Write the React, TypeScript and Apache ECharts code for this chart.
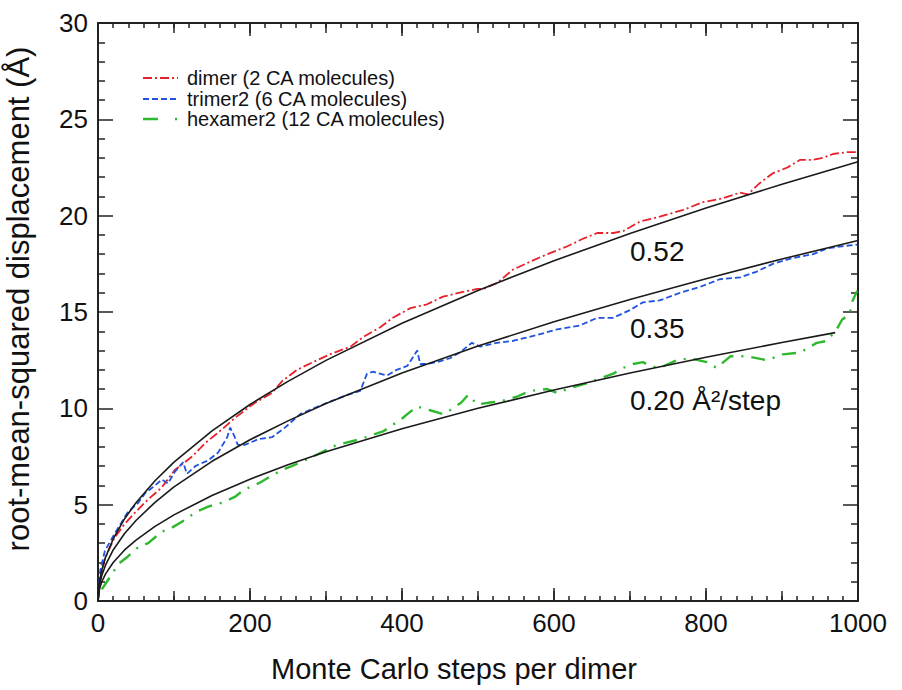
import React, { useEffect, useRef } from "react";
import * as echarts from "echarts";

const FONT = "'Liberation Sans', Arial, Helvetica, sans-serif";

const xTickValues = [0, 200, 400, 600, 800, 1000];
const yTickValues = [0, 5, 10, 15, 20, 25, 30];

const seriesNames = [
  "dimer (2 CA molecules)",
  "trimer2 (6 CA molecules)",
  "hexamer2 (12 CA molecules)",
];
const seriesColors = ["#e8202a", "#2052e0", "#2eb82e"];
const seriesDashes = [[9, 3, 2, 3], [6, 3], [14, 8, 2, 8]];
const legendDashes = [[9, 3, 2, 3], [6, 3], [15, 17, 2, 10]];
const seriesWidths = [1.8, 1.8, 2.4];

const dimerData = [
  [0, 0], [3, 1.1], [9, 2.2], [22, 3.3], [35, 4.0], [49, 4.6], [64, 5.2], [84, 5.9],
  [101, 6.8], [124, 7.5], [141, 8.2], [163, 8.9], [180, 9.5], [207, 10.3], [229, 10.8],
  [242, 11.4], [262, 12.0], [283, 12.4], [305, 12.8], [332, 13.2], [349, 13.7], [371, 14.2],
  [388, 14.7], [411, 15.2], [433, 15.4], [454, 15.8], [476, 16.0], [499, 16.2], [507, 16.2],
  [525, 16.5], [546, 17.2], [568, 17.6], [591, 18.0], [617, 18.4], [638, 18.8], [657, 19.1],
  [678, 19.1], [691, 19.2], [713, 19.7], [735, 19.9], [770, 20.3], [796, 20.7], [822, 20.9],
  [845, 21.2], [855, 21.1], [871, 21.7], [888, 22.2], [907, 22.5], [924, 22.9], [941, 22.9],
  [954, 23.0], [967, 23.2], [986, 23.3], [999, 23.3],
];

const trimerData = [
  [0, 0], [3, 1.6], [9, 2.6], [22, 3.5], [39, 4.6], [53, 5.1], [62, 5.6], [72, 5.9],
  [84, 6.3], [92, 6.1], [101, 6.7], [112, 7.2], [117, 6.6], [128, 7.0], [145, 7.3],
  [158, 7.7], [170, 8.5], [174, 9.0], [180, 8.5], [184, 8.1], [193, 8.1], [211, 8.4],
  [229, 8.5], [246, 9.0], [266, 9.7], [296, 10.2], [328, 10.7], [345, 10.9], [354, 11.8],
  [362, 11.9], [380, 11.7], [393, 12.0], [407, 12.2], [420, 13.0], [424, 12.3], [433, 12.3],
  [446, 12.4], [463, 12.6], [476, 12.9], [492, 13.4], [503, 13.2], [525, 13.4], [546, 13.5],
  [577, 13.8], [604, 14.1], [634, 14.3], [657, 14.7], [678, 14.7], [700, 15.1], [717, 15.5],
  [739, 15.6], [766, 16.0], [792, 16.3], [818, 16.7], [845, 16.8], [867, 17.1], [888, 17.5],
  [914, 17.8], [941, 18.0], [959, 18.3], [976, 18.4], [999, 18.5],
];

const hexamerData = [
  [5, 0.6], [20, 1.5], [26, 1.9], [39, 2.3], [53, 2.8], [66, 3.0], [84, 3.6], [97, 3.8],
  [114, 4.2], [128, 4.6], [145, 4.9], [163, 5.1], [180, 5.4], [193, 5.8], [211, 6.1],
  [224, 6.4], [242, 6.8], [255, 7.0], [283, 7.5], [314, 8.1], [345, 8.4], [375, 8.8],
  [401, 9.5], [407, 9.7], [420, 10.1], [428, 10.0], [437, 9.9], [454, 9.7], [463, 9.9],
  [478, 10.3], [487, 10.7], [499, 10.2], [516, 10.3], [533, 10.4], [551, 10.6], [568, 10.9],
  [591, 11.0], [604, 10.8], [625, 11.1], [643, 11.3], [657, 11.5], [678, 11.8], [691, 12.1],
  [704, 12.3], [717, 12.4], [726, 12.2], [739, 12.1], [762, 12.5], [779, 12.6], [801, 12.4],
  [814, 12.1], [832, 12.7], [854, 12.7], [880, 12.5], [901, 12.8], [924, 12.9], [946, 13.4],
  [959, 13.5], [972, 14.1], [979, 14.6], [989, 14.9], [993, 15.6], [999, 16.1],
];

// fitted curves
const fitSteps = [0, 2, 5, 10, 20, 35, 50, 75, 100, 150, 200, 250, 300, 400, 500, 600, 700, 800, 900, 1000];
const fit052 = [0, 1.02, 1.61, 2.28, 3.22, 4.27, 5.10, 6.24, 7.21, 8.83, 10.20, 11.40, 12.49, 14.42, 16.12, 17.66, 19.08, 20.40, 21.63, 22.80];
const fit035 = [0, 0.84, 1.32, 1.87, 2.65, 3.50, 4.18, 5.12, 5.92, 7.25, 8.37, 9.35, 10.25, 11.83, 13.23, 14.49, 15.65, 16.73, 17.75, 18.71];
const fit020Steps = [0, 2, 5, 10, 20, 35, 50, 75, 100, 150, 200, 250, 300, 400, 500, 600, 700, 800, 900, 970];
const fit020 = [0, 0.63, 1.0, 1.41, 2.0, 2.65, 3.16, 3.87, 4.47, 5.48, 6.32, 7.07, 7.75, 8.94, 10.0, 10.95, 11.83, 12.65, 13.42, 13.93];

const fitLabels = ["0.52", "0.35", "0.20 Å²/step"];

const AX = "#222";

function xAxisDef(position: string, interval: number, major: boolean, labels: boolean) {
  return {
    type: "value",
    position,
    min: 0,
    max: 1000,
    interval,
    axisLine: { show: major, onZero: false, lineStyle: { color: AX, width: 2 } },
    axisTick: { show: true, inside: true, length: major ? 13 : 10, lineStyle: { color: AX, width: 1.5 } },
    minorTick: { show: major, splitNumber: 10, length: 5, lineStyle: { color: AX, width: 1.5 } },
    splitLine: { show: false },
    axisLabel: {
      show: labels,
      fontSize: 26,
      color: "#111",
      margin: 9,
      fontFamily: FONT,
      formatter: (v: number) => (xTickValues.includes(v) ? String(v) : ""),
    },
    ...(labels
      ? {
          name: "Monte Carlo steps per dimer",
          nameLocation: "middle",
          nameGap: 53,
          nameTextStyle: { fontSize: 29, color: "#111", fontFamily: FONT, padding: [0, 48, 0, 0] },
        }
      : {}),
  };
}

function yAxisDef(position: string, labels: boolean) {
  return {
    type: "value",
    position,
    min: 0,
    max: 30,
    interval: 5,
    axisLine: { show: true, onZero: false, lineStyle: { color: AX, width: 2 } },
    axisTick: { show: true, inside: true, length: 15, lineStyle: { color: AX, width: 1.5 } },
    minorTick: { show: true, splitNumber: 5, length: 7, lineStyle: { color: AX, width: 1.5 } },
    splitLine: { show: false },
    axisLabel: {
      show: labels,
      fontSize: 26,
      color: "#111",
      margin: 10,
      fontFamily: FONT,
      formatter: (v: number) => (yTickValues.includes(v) ? String(v) : ""),
    },
    ...(labels
      ? {
          name: "root-mean-squared displacement (Å)",
          nameLocation: "middle",
          nameGap: 64,
          nameTextStyle: { fontSize: 31, color: "#111", fontFamily: FONT, padding: [0, 0, 0, 26] },
        }
      : {}),
  };
}

export default function App() {
  const ref = useRef<HTMLDivElement>(null);

  useEffect(() => {
    if (!ref.current) return;
    const chart = echarts.init(ref.current, undefined, { renderer: "svg" });

    const pair = (steps: number[], vals: number[]) => steps.map((s, i) => [s, vals[i]]);
    const fitSeries = (name: string, data: number[][]) => ({
      name,
      type: "line",
      data,
      showSymbol: false,
      symbol: "none",
      lineStyle: { color: "#1a1a1a", width: 1.6 },
      z: 5,
    });
    const dataSeries = (i: number, data: number[][]) => ({
      name: seriesNames[i],
      type: "line",
      data,
      showSymbol: false,
      symbol: "none",
      itemStyle: { color: seriesColors[i] },
      lineStyle: { color: seriesColors[i], width: seriesWidths[i], type: seriesDashes[i] },
      z: 3,
    });

    const legendRowsY = [78, 99, 119];
    const legendGraphics: any[] = [];
    seriesNames.forEach((name, i) => {
      legendGraphics.push({
        type: "line",
        shape: { x1: 143, y1: legendRowsY[i], x2: 178, y2: legendRowsY[i] },
        style: { stroke: seriesColors[i], lineWidth: seriesWidths[i], lineDash: legendDashes[i] },
      });
      legendGraphics.push({
        type: "text",
        x: 187,
        y: legendRowsY[i],
        style: { text: name, fontSize: 20, fill: "#111", fontFamily: FONT, verticalAlign: "middle" },
      });
    });

    const option = {
      animation: false,
      backgroundColor: "#ffffff",
      textStyle: { fontFamily: FONT },
      grid: { left: 98, right: 44, top: 23, bottom: 89, containLabel: false, outerBoundsMode: "none" },
      xAxis: [
        xAxisDef("bottom", 200, true, true),
        xAxisDef("bottom", 100, false, false),
        xAxisDef("top", 200, true, false),
        xAxisDef("top", 100, false, false),
      ],
      yAxis: [yAxisDef("left", true), yAxisDef("right", false)],
      series: [
        dataSeries(0, dimerData),
        dataSeries(1, trimerData),
        dataSeries(2, hexamerData),
        fitSeries("fit 0.52", pair(fitSteps, fit052)),
        fitSeries("fit 0.35", pair(fitSteps, fit035)),
        fitSeries("fit 0.20", pair(fit020Steps, fit020)),
      ],
      graphic: [
        ...legendGraphics,
        { type: "text", x: 630, y: 251, style: { text: fitLabels[0], fontSize: 28, fill: "#111", fontFamily: FONT, verticalAlign: "middle" } },
        { type: "text", x: 630, y: 328, style: { text: fitLabels[1], fontSize: 28, fill: "#111", fontFamily: FONT, verticalAlign: "middle" } },
        { type: "text", x: 630, y: 400, style: { text: fitLabels[2], fontSize: 28, fill: "#111", fontFamily: FONT, verticalAlign: "middle" } },
      ],
    };

    chart.setOption(option as any);
    return () => chart.dispose();
  }, []);

  return (
    <div
      ref={ref}
      style={{ position: "fixed", left: 0, top: 0, width: 902, height: 690, background: "#fff" }}
    />
  );
}
